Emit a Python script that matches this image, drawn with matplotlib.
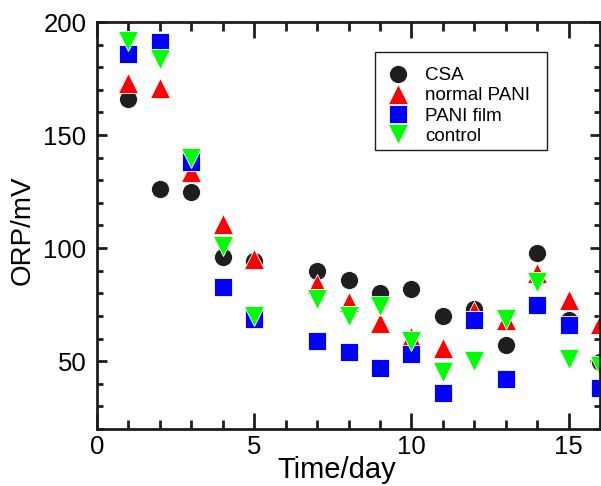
import numpy as np
import matplotlib
matplotlib.use('Agg')
import matplotlib.pyplot as plt
from matplotlib.patches import Rectangle
from matplotlib.ticker import MultipleLocator

plt.rcParams['font.family'] = ['Liberation Sans', 'DejaVu Sans']

days = [1, 2, 3, 4, 5, 7, 8, 9, 10, 11, 12, 13, 14, 15, 16]
csa = [166, 126, 125, 96, 94.5, 90, 86, 80, 82, 70, 73, 57, 98, 68, 49.5]
normal_pani = [173, 171, 133.5, 110.5, 95, 84, 76, 67, 60.5, 56, 72, 68, 89, 77, 66.5]
pani_film = [186, 191, 138, 83, 68.5, 59, 54, 47, 53, 36, 68, 42, 75, 66, 38]
control = [191.5, 183.5, 140, 101, 70, 77.5, 70, 74.5, 59, 45, 50, 68.5, 85, 51, 48]

series = [
    ('CSA', csa, 'o', '#1e1e1e', 13),
    ('normal PANI', normal_pani, '^', '#ff0000', 14),
    ('PANI film', pani_film, 's', '#0000ff', 13),
    ('control', control, 'v', '#00ff00', 14),
]

W, H = 601, 486
fig = plt.figure(figsize=(W / 100, H / 100), dpi=100)
ax = fig.add_axes([97/W, 1 - 429/H, 503/W, 407/H])

for name, vals, mk, col, ms in series:
    ax.plot(days, vals, linestyle='none', marker=mk, color=col, ms=ms,
            mec='white', mew=0.6, label=name, clip_on=False)

ax.set_xlim(0, 16)
ax.set_ylim(20, 200)
ax.xaxis.set_major_locator(MultipleLocator(5))
ax.xaxis.set_minor_locator(MultipleLocator(1))
ax.yaxis.set_major_locator(MultipleLocator(50))
ax.yaxis.set_minor_locator(MultipleLocator(10))

dark = '#1e1e1e'
for s in ax.spines.values():
    s.set_linewidth(2)
    s.set_color(dark)
ax.tick_params(which='both', direction='in', top=True, right=True, color=dark,
               width=2, labelsize=18.5)
ax.tick_params(axis='x', which='major', length=11.5, pad=4)
ax.tick_params(axis='x', which='minor', length=6.5)
ax.tick_params(axis='y', which='major', length=7.5, pad=7.5)
ax.tick_params(axis='y', which='minor', length=4.5)

ax.set_xlabel('Time/day', fontsize=21)
ax.xaxis.set_label_coords((337 - 97) / 503, (429 - 478) / 407)
ax.xaxis.label.set_va('baseline')
ax.set_ylabel('ORP/mV', fontsize=20)
ax.yaxis.set_label_coords((23 - 97) / 503, (429 - 230) / 407)
ax.yaxis.label.set_va('center')

# legend without frame, box drawn separately
leg = ax.legend(loc='upper left', bbox_to_anchor=(390/W, 1 - 67/H),
                bbox_transform=fig.transFigure, fontsize=13.5, frameon=False,
                numpoints=1, handlelength=0.9, handletextpad=0.99,
                labelspacing=0.17, borderpad=0, borderaxespad=0)
fig.patches.append(Rectangle((375/W, 1 - 150/H), 172/W, 98/H,
                             transform=fig.transFigure, fill=False,
                             ec=dark, lw=1.0))

fig.savefig('out.png', dpi=100)
